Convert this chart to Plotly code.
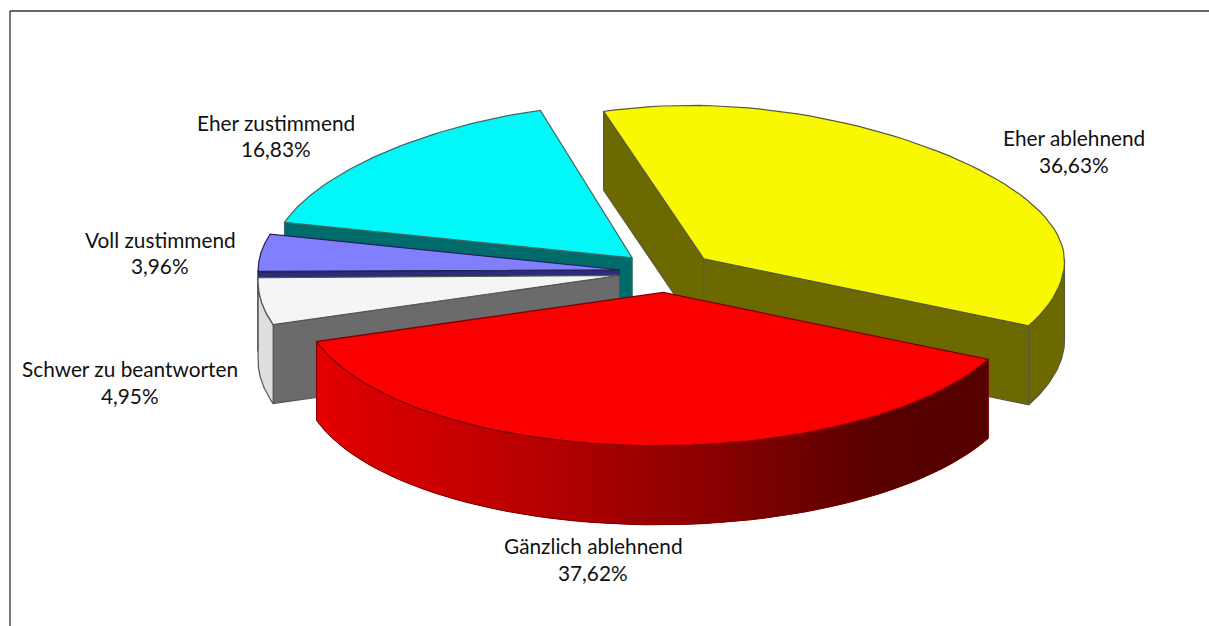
import math
import plotly.graph_objects as go

labels = ["Eher ablehnend", "Gänzlich ablehnend", "Schwer zu beantworten", "Voll zustimmend", "Eher zustimmend"]
values = [36.63, 37.62, 4.95, 3.96, 16.83]
top_colors = ["#f8f800", "#fa0000", "#f5f5f5", "#8080ff", "#00f8f8"]
side_colors = ["#6b6900", "#7a0000", "#6b6b6b", "#2c2c78", "#006b6b"]
arc_colors = ["#6b6900", None, "#dedede", "#2c2c78", "#006b6b"]
edge_colors = ["#5a5a40", "#7a0000", "#555555", "#222255", "#446666"]
draw_order = [0, 4, 3, 2, 1]
label_px = [(1074, 137, 164), (593, 545, 572), (130, 368, 395), (160, 239, 265), (276, 122, 148)]

W, H = 1209, 626
CX, CY, R = 667, 272, 361
TILT = 0.425
EXPLODE = 48 / 360
DEPTH = 79 / R
BACK = 0.105
BACK_SHIFT = 0.02
FRONT = 0.017
START = -106.0
TOTAL = sum(values)
FONT = "Lato"
FS = 20.8


def px(x, y):
    return (x - CX) / R, -(y - CY) / R


def project(X, Z):
    if Z < 0:
        return X * (1 - BACK * Z * Z) - BACK_SHIFT * Z * Z, -TILT * Z
    return X + FRONT * Z * (X - 1), -TILT * Z


def pt(apex, t):
    a = math.radians(t)
    return project(apex[0] + math.cos(a), apex[1] + math.sin(a))


def arc(apex, a, b, n=60):
    return [pt(apex, a + (b - a) * i / n) for i in range(n + 1)]


def down(p):
    return p[0], p[1] - DEPTH


def poly(points, fill, line, width=1.2):
    xs = [p[0] for p in points] + [points[0][0]]
    ys = [p[1] for p in points] + [points[0][1]]
    return go.Scatter(x=xs, y=ys, mode="lines", fill="toself", fillcolor=fill,
                      line=dict(color=line, width=width), hoverinfo="skip", showlegend=False)


def red_at(xp):
    stops = [(317, 228), (568, 176), (746, 128), (880, 88), (988, 86)]
    for (a, va), (b, vb) in zip(stops, stops[1:]):
        if xp <= b:
            return round(va + (vb - va) * (xp - a) / (b - a))
    return stops[-1][1]


fig = go.Figure()
spans = []
angle = START
for v in values:
    sweep = 360 * v / TOTAL
    spans.append((angle, angle + sweep))
    angle += sweep

for i in draw_order:
    a, b = spans[i]
    m = math.radians((a + b) / 2)
    apex = (EXPLODE * math.cos(m), EXPLODE * math.sin(m))
    tip = project(*apex)
    walls = []
    if math.cos(math.radians(a)) < 0:
        walls.append(a)
    if math.cos(math.radians(b)) > 0:
        walls.append(b)
    for t in walls:
        e = pt(apex, t)
        fig.add_trace(poly([tip, e, down(e), down(tip)], side_colors[i], edge_colors[i]))
    lo, hi = max(a, 0), min(b, 180)
    if hi > lo:
        top = arc(apex, lo, hi)
        if arc_colors[i] is None:
            n = 110
            for k in range(n):
                t0 = lo + (hi - lo) * k / n
                t1 = lo + (hi - lo) * min(k + 2, n) / n
                p0, p1 = pt(apex, t0), pt(apex, t1)
                xp = (p0[0] + pt(apex, lo + (hi - lo) * (k + 1) / n)[0]) / 2 * R + CX
                col = f"rgb({red_at(xp)},0,0)"
                fig.add_trace(poly([p0, p1, down(p1), down(p0)], col, col, 0))
            outline = top + [down(p) for p in reversed(top)] + [top[0]]
            fig.add_trace(go.Scatter(x=[p[0] for p in outline], y=[p[1] for p in outline],
                                     mode="lines", line=dict(color=edge_colors[i], width=1),
                                     hoverinfo="skip", showlegend=False))
        else:
            fig.add_trace(poly(top + [down(p) for p in reversed(top)], arc_colors[i], edge_colors[i]))
    fig.add_trace(poly([tip] + arc(apex, a, b), top_colors[i], edge_colors[i]))

for name, v, (lx, ly1, ly2) in zip(labels, values, label_px):
    x1, y1 = px(lx, ly1)
    x2, y2 = px(lx, ly2)
    for text, xx, yy in ((name, x1, y1), (f"{v:.2f}".replace(".", ",") + "%", x2, y2)):
        fig.add_annotation(x=xx, y=yy, text=text, showarrow=False, xanchor="center", yanchor="middle",
                           font=dict(family=FONT, size=FS, color="#111111"))

# chart frame: top and left rules only
fx, fy = px(10, 11)
xr = [-CX / R, (W - CX) / R]
yr = [-(H - CY) / R, CY / R]
fig.add_trace(go.Scatter(x=[fx, fx], y=[yr[0], fy], mode="lines", line=dict(color="#777777", width=2),
                         hoverinfo="skip", showlegend=False))
fig.add_trace(go.Scatter(x=[fx, xr[1]], y=[fy, fy], mode="lines", line=dict(color="#333333", width=1.5),
                         hoverinfo="skip", showlegend=False))

fig.update_layout(width=W, height=H, margin=dict(l=0, r=0, t=0, b=0), paper_bgcolor="white",
                  plot_bgcolor="white", showlegend=False,
                  xaxis=dict(range=xr, visible=False, fixedrange=True),
                  yaxis=dict(range=yr, visible=False, fixedrange=True))
fig.write_html("out.html", config={"displayModeBar": False},
               post_script="document.body.style.margin='0';document.body.style.overflow='hidden';")
